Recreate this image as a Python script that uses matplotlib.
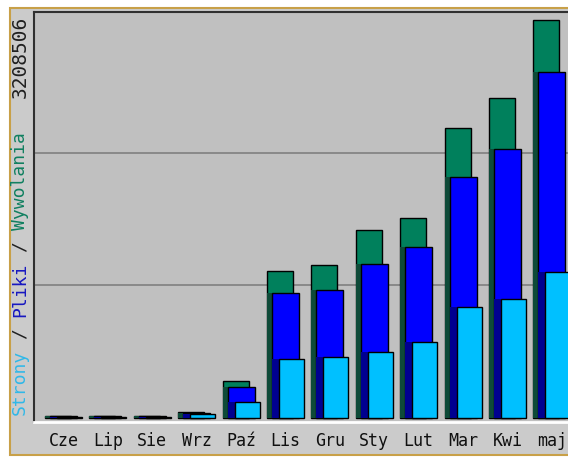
import numpy as np
import matplotlib
matplotlib.use('Agg')
import matplotlib.pyplot as plt
from matplotlib.patches import Rectangle

# Dane miesieczne (webalizer)
miesiace = ['Cze', 'Lip', 'Sie', 'Wrz', 'Paź', 'Lis', 'Gru', 'Sty', 'Lut', 'Mar', 'Kwi', 'maj']
wywolania = [18000, 18000, 18000, 48000, 298000, 1185000, 1233000, 1516000, 1612000, 2338000, 2580000, 3208506]
pliki = [14000, 14000, 14000, 40000, 250000, 1008000, 1032000, 1241000, 1379000, 1943000, 2169000, 2789000]
strony = [10000, 10000, 10000, 32000, 129000, 476000, 492000, 532000, 613000, 895000, 959000, 1177000]

W, H = 568, 457
fig = plt.figure(figsize=(W / 100, H / 100), dpi=100)
fig.patch.set_facecolor('white')

# ramka zewnetrzna
fig.patches.append(Rectangle((10 / W, 2 / H), 1.0, (455 - 8) / H, transform=fig.transFigure,
                             facecolor='#cbcbcb', edgecolor='#c8a048', linewidth=1.5, zorder=-5))

px = 44.4  # piksele na miesiac
ax = fig.add_axes([34 / W, (H - 422) / H, (580 - 34) / W, (422 - 12) / H])
ax.set_facecolor('#c0c0c0')
ax.set_zorder(2)

maks = max(wywolania)
skala = maks / 398.0
ax.set_ylim(-4 * skala, 406 * skala)
ax.set_xlim(-11 / px, (580 - 34) / px - 11 / px)

x = np.arange(len(miesiace))
edge = dict(edgecolor='black', linewidth=1.0, align='edge')
ax.bar(x, wywolania, width=26 / px, color='#00805c', zorder=3, **edge)
ax.bar(x, pliki, width=26 / px, color='#0e4a38', zorder=3.5, align='edge', linewidth=0)
ax.bar(x + 5 / px, pliki, width=27 / px, color='#0000ff', zorder=4, **edge)
ax.bar(x + 5 / px, strony, width=27 / px, color='#000090', zorder=4.5, align='edge', linewidth=0)
ax.bar(x + 12 / px, strony, width=25 / px, color='#00c0ff', zorder=5, **edge)

# linie siatki
ax.set_yticks([maks / 3, 2 * maks / 3])
ax.yaxis.grid(True, color='#808080', linewidth=1.2, zorder=1)
ax.set_axisbelow(True)
ax.tick_params(axis='y', left=False, labelleft=False)

ax.set_xticks(x + 18.5 / px)
ax.set_xticklabels(miesiace, family='DejaVu Sans Mono', fontsize=12, color='#101010')
ax.tick_params(axis='x', length=0, pad=7)

for s in ['top', 'left']:
    ax.spines[s].set_color('#303030')
    ax.spines[s].set_linewidth(1.5)
for s in ['bottom', 'right']:
    ax.spines[s].set_color('white')
    ax.spines[s].set_linewidth(2)

# etykieta osi Y (wielokolorowa)
mono = 'DejaVu Sans Mono'
adv = 10.9
czesci = [('Strony', '#30b8e8', 0), ('/', '#202020', 7), ('Pliki', '#1818c0', 9),
          ('/', '#202020', 15), ('Wywolania', '#108060', 17)]
for txt, kol, c in czesci:
    fig.text(20 / W, (H - 415 + c * adv) / H, txt, rotation=90, color=kol, family=mono,
             fontsize=13, ha='center', va='bottom')
fig.text(20 / W, (H - 16) / H, f'{maks}', rotation=90, color='#202020', family=mono,
         fontsize=14, ha='center', va='top')

plt.savefig('out.png', dpi=100)
